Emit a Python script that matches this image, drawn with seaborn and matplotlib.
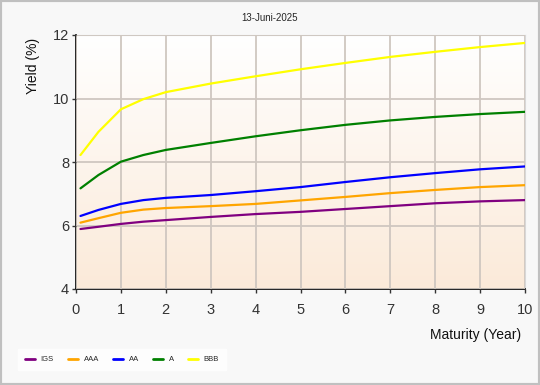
import numpy as np
import pandas as pd
import seaborn as sns
import matplotlib.pyplot as plt
from matplotlib.colors import LinearSegmentedColormap

# maturities (years) and yields (%) per rating
maturity = [0.1, 0.5, 1, 1.5, 2, 3, 4, 5, 6, 7, 8, 9, 10]
igs = [5.89, 5.96, 6.05, 6.12, 6.17, 6.27, 6.36, 6.43, 6.52, 6.61, 6.70, 6.76, 6.80]
aaa = [6.09, 6.23, 6.40, 6.50, 6.55, 6.61, 6.68, 6.79, 6.90, 7.02, 7.12, 7.21, 7.27]
aa = [6.30, 6.49, 6.68, 6.80, 6.87, 6.96, 7.08, 7.21, 7.37, 7.52, 7.65, 7.77, 7.86]
a = [7.17, 7.59, 8.01, 8.22, 8.38, 8.60, 8.81, 9.00, 9.17, 9.31, 9.42, 9.51, 9.58]
bbb = [8.22, 8.95, 9.66, 9.98, 10.20, 10.47, 10.70, 10.92, 11.12, 11.31, 11.47, 11.62, 11.75]

series = ['IGS', 'AAA', 'AA', 'A', 'BBB']
colors = ['#800080', '#ffa500', '#0000ff', '#008000', '#ffff00']

df = pd.DataFrame({'Maturity': maturity, 'IGS': igs, 'AAA': aaa, 'AA': aa, 'A': a, 'BBB': bbb})
long_df = df.melt(id_vars='Maturity', var_name='Rating', value_name='Yield')

sns.set_style('white')
plt.rcParams['font.family'] = ['Liberation Sans', 'DejaVu Sans']

fig = plt.figure(figsize=(5.4, 3.85), dpi=100, facecolor='#f8f8f8')
ax = fig.add_axes([76 / 540, 1 - 289 / 385, 449 / 540, 254 / 385])

# gradient background: white top -> light peach bottom
cmap = LinearSegmentedColormap.from_list('bg', ['#ffffff', '#fbead9'])
grad = np.linspace(0, 1, 256).reshape(-1, 1)
ax.imshow(grad, cmap=cmap, aspect='auto', extent=[0, 10, 4, 12], zorder=0)

sns.lineplot(data=long_df, x='Maturity', y='Yield', hue='Rating', hue_order=series,
             palette=colors, linewidth=1.6, ax=ax, zorder=3, legend=False)

ax.set_xlim(0, 10)
ax.set_ylim(4, 12)
ax.set_xticks(range(0, 11))
ax.set_yticks([4, 6, 8, 10, 12])
ax.grid(True, color='#cfc7c0', linewidth=1.3, zorder=1)
ax.set_axisbelow(False)
for sp in ['top', 'right']:
    ax.spines[sp].set_color('#d8d8d8')
for sp in ['left', 'bottom']:
    ax.spines[sp].set_color('black')
    ax.spines[sp].set_linewidth(1.2)
ax.tick_params(axis='both', labelsize=10.5, colors='#333333', length=3, width=1,
               left=True, bottom=True)
ax.tick_params(axis='x', pad=7)
ax.tick_params(axis='y', pad=2)
ax.set_xlabel('')
ax.set_ylabel('')
fig.text(33 / 540, 1 - 38 / 385, 'Yield (%)', rotation=90, ha='center', va='top',
         fontsize=10, color='#111111')
fig.text(521 / 540, 1 - 335 / 385, 'Maturity (Year)', ha='right', va='center',
         fontsize=10, color='#111111')
fig.text(0.5, 1 - 18 / 385, '13-Juni-2025', ha='center', va='center', fontsize=7)

handles = [plt.Line2D([0], [0], color=c, lw=2) for c in colors]
leg = fig.legend(handles, series, loc='lower left', bbox_to_anchor=(14 / 540, 1 - 374 / 385),
                 ncol=5, fontsize=5.5, frameon=True, handlelength=1.3, columnspacing=1.8,
                 handletextpad=0.8, fancybox=False, borderpad=0.9)
leg.get_frame().set_facecolor('white')
leg.get_frame().set_edgecolor('white')

# outer border
fig.patches.append(plt.Rectangle((0, 0), 1, 1, transform=fig.transFigure, fill=False,
                                 edgecolor='#c0c0c0', linewidth=3))

fig.savefig('out.png', dpi=100, facecolor=fig.get_facecolor())
